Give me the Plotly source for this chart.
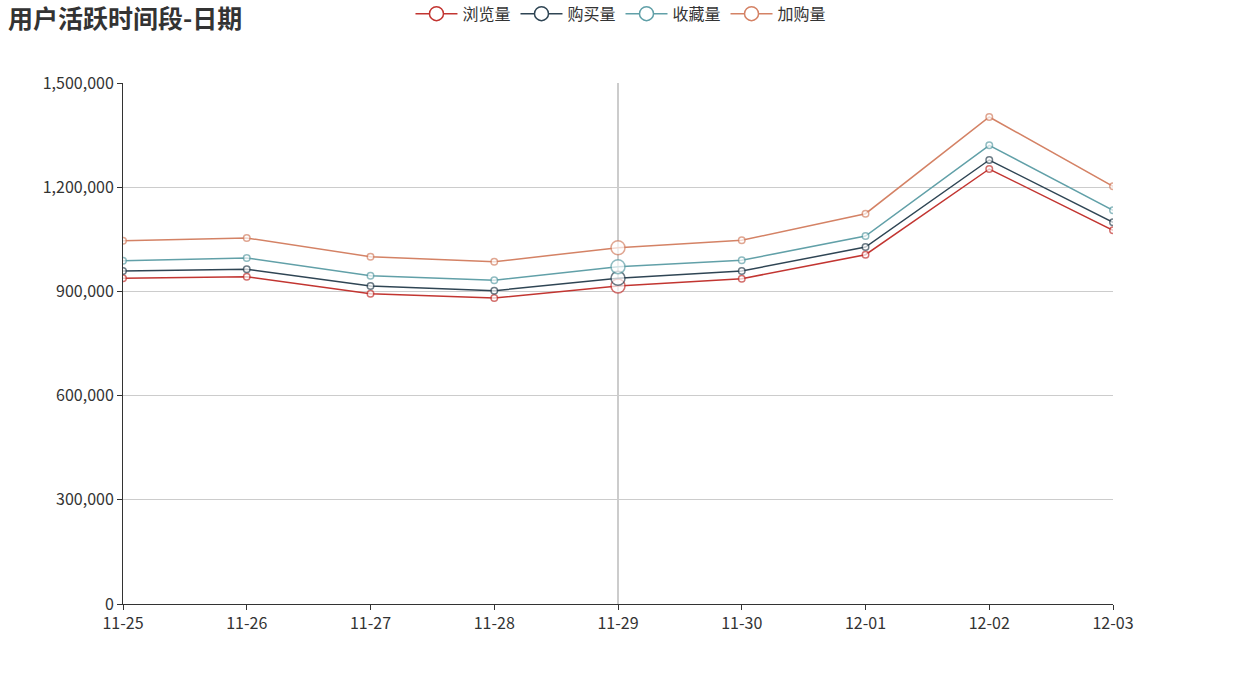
import plotly.graph_objects as go

dates = ["11-25", "11-26", "11-27", "11-28", "11-29", "11-30", "12-01", "12-02", "12-03"]
browse = [937700, 942300, 893400, 881000, 915500, 936600, 1005700, 1252400, 1075900]
buy = [958700, 963600, 915500, 902000, 937700, 958700, 1027800, 1278300, 1098900]
fav = [988400, 996200, 945200, 932000, 971100, 989500, 1059500, 1320600, 1133500]
cart = [1046000, 1053700, 999900, 985500, 1025800, 1047100, 1123700, 1402100, 1202600]

names = ["浏览量", "购买量", "收藏量", "加购量"]
colors = ["#c23531", "#2f4554", "#61a0a8", "#d48265"]
series = [browse, buy, fav, cart]
hover_date = "11-29"

FONT = "Noto Sans CJK SC, Microsoft YaHei, sans-serif"

fig = go.Figure()
sizes = [14 if d == hover_date else 6.5 for d in dates]
for name, col, vals in zip(names, colors, series):
    fig.add_trace(go.Scatter(
        x=dates, y=vals, name=name, mode="lines+markers", legendgroup=name,
        showlegend=False,
        line=dict(color=col, width=1.5),
        marker=dict(symbol="circle", size=sizes, color="white",
                    line=dict(color=col, width=1.5)),
    ))
    # legend entry with the larger ECharts-style symbol
    fig.add_trace(go.Scatter(
        x=[None], y=[None], name=name, mode="lines+markers", legendgroup=name,
        showlegend=True,
        line=dict(color=col, width=1.5),
        marker=dict(symbol="circle", size=14, color="white",
                    line=dict(color=col, width=1.5)),
    ))

fig.add_shape(type="line", xref="x", yref="paper", x0=hover_date, x1=hover_date,
              y0=0, y1=1, line=dict(color="#999999", width=1), layer="below")

fig.update_layout(
    width=1237, height=687,
    margin=dict(l=123, r=124, t=83, b=83),
    paper_bgcolor="white", plot_bgcolor="white",
    font=dict(family=FONT, size=16, color="#333333"),
    title=dict(text="<b>用户活跃时间段-日期</b>", x=0.0065, xref="container", xanchor="left",
               y=0.972, yref="container", yanchor="middle",
               font=dict(family=FONT, size=25, color="#333333")),
    legend=dict(orientation="h", x=0.502, xanchor="center", xref="container",
                y=0.98, yref="container", yanchor="middle",
                font=dict(family=FONT, size=16, color="#333333"),
                itemwidth=42, tracegroupgap=0),
    showlegend=True,
    hovermode="x",
)

fig.update_xaxes(type="category", range=[0, len(dates) - 1], showgrid=False,
                 showline=True, linecolor="#333333", linewidth=1,
                 ticks="outside", ticklen=5, tickcolor="#333333",
                 tickfont=dict(family=FONT, size=16, color="#333333"), zeroline=False)
fig.update_yaxes(range=[0, 1500000], dtick=300000, tickformat=",",
                 showgrid=True, gridcolor="#cccccc", gridwidth=1,
                 showline=True, linecolor="#333333", linewidth=1,
                 ticks="outside", ticklen=5, tickcolor="#333333",
                 tickfont=dict(family=FONT, size=16, color="#333333"), zeroline=False)

fig.write_html("out.html")
